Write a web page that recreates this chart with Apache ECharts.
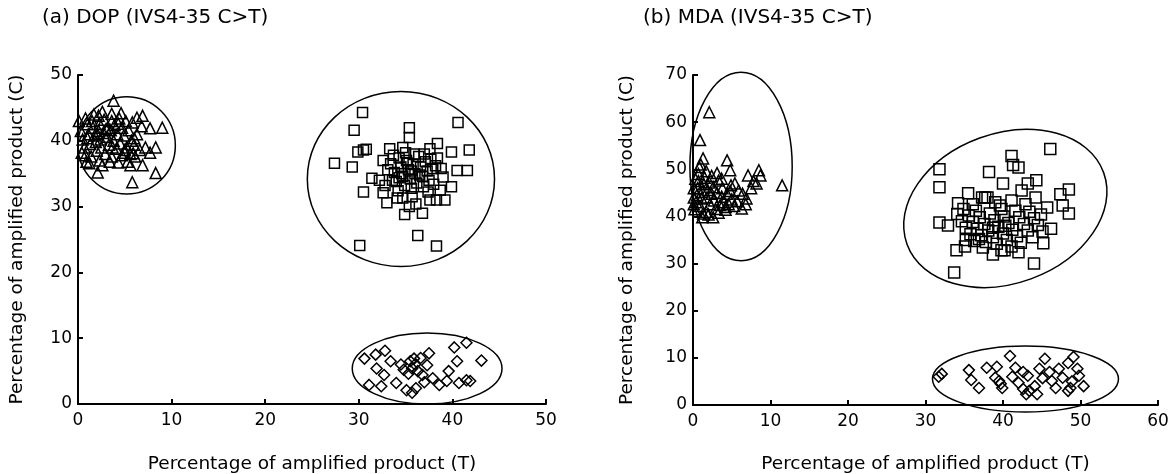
<!DOCTYPE html>
<html>
<head>
<meta charset="utf-8">
<script src="https://cdn.jsdelivr.net/npm/echarts@6/dist/echarts.min.js"></script>
<style>
  html, body { margin: 0; padding: 0; background: #fff; }
  #main { width: 1171px; height: 474px; }
</style>
</head>
<body>
<div id="main"></div>
<script>
// ---- data ----
var titles = ['(a) DOP (IVS4-35 C>T)', '(b) MDA (IVS4-35 C>T)'];
var xName = 'Percentage of amplified product (T)';
var yName = 'Percentage of amplified product (C)';
var xMaxA = 50, yMaxA = 50;   // panel (a) axis ranges
var xMaxB = 60, yMaxB = 70;   // panel (b) axis ranges

// panel (a) DOP: [T, C]
var triA = [
  [3.8,46.1],[9.0,42.0],[7.7,41.9],[8.3,39.0],[7.2,39.0],[8.3,35.1],[5.8,33.7],[2.1,35.2],
  [6.9,36.3],[5.6,36.3],[6.3,43.5],[6.9,43.8],[3.6,44.1],[2.2,43.8],[0.8,43.4],[0.8,37.8],
  [1.2,36.6],[2.6,36.3],[4.3,36.7],[5.0,38.2],[5.9,38.1],[7.7,38.2],
  [0.3,41.5],[0.5,40.2],[0.7,39.0],[1.0,42.5],[1.1,41.0],[1.3,39.5],[1.5,43.0],[1.6,42.0],
  [1.8,40.8],[1.9,39.8],[2.0,38.5],[2.2,41.5],[2.3,42.6],[2.4,40.2],[2.5,39.0],[2.7,41.2],
  [2.8,43.2],[2.9,38.0],[3.1,40.6],[3.2,42.0],[3.3,39.4],[3.5,41.6],[3.6,37.6],[3.6,43.0],
  [3.8,40.0],[3.9,42.4],[4.1,38.8],[4.2,41.0],[4.4,43.4],[4.5,39.6],[4.7,42.0],[4.7,37.8],
  [4.9,40.8],[5.1,43.0],[5.2,39.0],[5.4,41.6],[5.6,38.0],[5.8,42.8],[6.0,40.4],[6.1,37.6],
  [6.3,41.0],[6.6,38.6],[6.8,42.2],[0.1,43.0],[0.4,38.2],[0.9,36.8],[1.4,37.6],[1.7,44.0],
  [2.3,37.0],[2.6,44.4],[3.4,36.8],[4.6,44.2],[5.3,36.8],[6.0,39.4],[1.0,40.4],[2.1,41.0],
  [3.0,41.8],[3.7,39.0],[4.3,42.6],[5.0,38.6],[5.7,40.0]
];
var sqA = [
  [30.4,44.3],[29.5,41.6],[35.4,42.0],[35.4,40.5],[40.6,42.8],[41.8,38.6],[27.4,36.6],[29.3,36.0],
  [29.9,38.3],[30.5,38.6],[30.8,38.7],[30.5,32.2],[31.4,34.3],[36.3,25.6],[30.1,24.1],[38.3,24.0],
  [33.3,38.8],[34.7,39.0],[37.6,38.8],[38.4,39.6],[39.9,38.3],[40.5,35.5],[41.6,35.5],[39.9,33.0],
  [37.6,31.0],[38.3,31.0],[39.2,31.0],[34.9,28.8],[36.8,29.0],[33.0,30.6],[34.1,31.3],[34.7,31.3],
  [32.6,32.1],[32.2,34.0],[32.6,37.0],[35.7,31.5],[38.7,32.5],[39.0,34.5],
  [33.4,36.5],[33.8,35.2],[34.0,33.8],[34.3,37.4],[34.5,36.0],[34.7,34.6],[34.9,33.2],[35.1,37.0],
  [35.3,35.6],[35.5,34.2],[35.6,32.8],[35.8,36.4],[36.0,35.0],[36.2,33.6],[36.4,37.6],[36.6,36.0],
  [36.8,34.6],[36.9,33.0],[37.1,36.8],[37.3,35.4],[37.5,34.0],[37.7,37.2],[37.9,35.8],[38.0,33.4],
  [38.2,36.2],[33.6,34.0],[34.2,32.4],[35.0,38.2],[35.9,38.0],[37.0,38.0],[33.1,35.6],[34.6,35.0],
  [35.6,35.4],[36.5,34.8],[35.2,36.6],[34.3,34.4],[37.4,32.2],[33.7,37.8],[38.4,37.4],[38.8,35.8],
  [32.8,33.2],[36.1,30.4],[35.4,30.0]
];
var diaA = [
  [30.6,6.9],[31.8,7.5],[32.8,8.1],[31.9,5.4],[32.7,4.4],[31.1,2.9],[32.4,2.7],[33.4,6.5],
  [34.0,3.2],[34.5,6.0],[35.1,2.1],[35.7,1.7],[36.1,2.4],[35.5,6.5],[35.7,5.4],[35.9,6.9],
  [36.3,5.0],[36.8,4.4],[37.3,5.9],[37.5,7.7],[37.9,3.9],[38.6,2.9],[39.4,3.5],[39.6,5.0],
  [40.2,8.6],[40.5,6.5],[40.7,3.2],[41.5,9.3],[41.9,3.5],[43.1,6.6],[41.5,3.6],[36.0,6.0],
  [35.3,4.6],[36.6,7.0],[34.8,5.2],[37.0,3.3]
];
// ellipses: [centre T, centre C, radius T, radius C, tilt deg]
var ringsA = [
  [5.2, 39.3, 5.2, 7.4, 0],
  [34.5, 34.2, 10.0, 13.3, 0],
  [37.3, 5.4, 8.0, 5.4, 0]
];

// panel (b) MDA: [T, C]
var triB = [
  [2.1,62.1],[0.9,56.2],[1.3,52.3],[4.4,51.9],[4.8,49.8],[11.5,46.6],[8.5,49.8],[8.7,48.7],
  [7.1,48.7],[6.9,43.8],[6.3,41.7],[5.4,47.0],[2.6,39.8],[1.2,39.8],
  [7.8,47.5],[8.2,47.0],[7.5,46.0],[5.9,45.5],[6.4,44.8],[5.7,43.2],[5.3,42.2],[6.8,42.6],
  [0.2,41.5],[0.4,43.0],[0.5,44.5],[0.6,46.0],[0.7,47.5],[0.7,49.0],[0.8,50.5],[0.9,42.2],
  [1.1,43.8],[1.2,45.2],[1.4,46.8],[1.5,48.2],[1.7,41.0],[1.8,44.0],[1.9,45.6],[2.1,47.2],
  [2.2,42.6],[2.4,44.8],[2.6,46.2],[2.7,43.4],[2.9,41.6],[3.1,45.0],[3.3,47.6],[3.5,42.4],
  [3.7,44.2],[3.8,46.0],[4.0,43.0],[4.2,41.4],[4.4,44.8],[4.6,42.6],[4.8,45.4],[5.0,43.6],
  [0.3,48.0],[1.0,51.0],[1.7,49.6],[2.4,48.6],[3.1,49.2],[3.7,48.0],[0.1,44.0],[1.3,40.6],
  [2.0,40.4],[3.3,40.8],[4.2,42.0],[4.9,46.6],[0.1,46.0],[0.1,42.6]
];
var sqB = [
  [46.1,54.3],[41.1,52.8],[41.3,50.9],[42.0,50.4],[38.2,49.4],[40.0,47.0],[31.8,50.0],[31.8,46.2],
  [44.3,47.7],[43.2,47.0],[48.5,45.7],[47.4,44.7],[48.5,40.6],[47.7,42.3],[31.8,38.7],[32.9,38.1],
  [34.0,32.8],[33.7,28.1],[35.1,33.6],[38.7,31.9],[40.2,32.8],[44.0,30.0],[45.2,34.3],[46.2,37.4],
  [35.5,44.9],[37.3,44.0],[37.7,44.0],[38.0,44.0],[34.2,42.8],[39.6,42.3],[42.4,45.5],[44.2,44.0],
  [45.7,41.9],
  [34.1,40.5],[34.7,39.0],[35.2,37.6],[35.8,36.2],[36.3,34.8],[34.9,41.6],[35.6,40.2],[36.1,38.8],
  [36.7,37.4],[37.2,36.0],[37.8,34.6],[36.5,41.2],[37.0,39.8],[37.6,38.4],[38.1,37.0],[38.7,35.6],
  [39.2,34.2],[38.3,40.6],[38.9,39.2],[39.4,37.8],[40.0,36.4],[40.5,35.0],[41.1,33.6],[40.1,40.0],
  [40.7,38.6],[41.2,37.2],[41.8,35.8],[42.3,34.4],[41.6,41.2],[42.1,39.8],[42.7,38.4],[43.2,37.0],
  [43.8,35.6],[43.4,41.0],[44.0,39.6],[44.5,38.2],[45.1,36.8],[39.8,41.6],[39.0,43.0],[41.1,43.4],
  [36.1,42.6],[35.2,35.0],[37.4,33.4],[39.8,32.8],[42.0,32.4],[40.3,38.0],[38.7,37.6],[36.9,35.2],
  [42.9,42.6],[44.9,40.4]
];
var diaB = [
  [32.1,6.6],[31.7,6.0],[35.6,7.4],[35.9,5.3],[36.9,3.6],[37.9,7.9],[39.2,8.1],[39.0,5.8],
  [39.5,5.1],[39.7,4.5],[39.9,3.6],[40.9,10.4],[41.6,7.9],[42.6,7.0],[42.0,4.7],[42.6,3.4],
  [43.0,2.3],[43.4,3.0],[44.1,4.0],[44.7,7.7],[45.4,9.8],[44.4,2.3],[46.3,5.1],[46.8,3.6],
  [47.2,7.7],[47.7,5.8],[48.4,8.9],[48.7,3.6],[48.4,3.0],[49.1,10.2],[49.6,7.7],[49.8,6.2],
  [50.4,4.0],[45.1,5.7],[43.2,6.2],[41.2,6.0],[48.9,5.0],[46.0,7.0]
];
var ringsB = [
  [6.2, 50.6, 6.6, 20, 0],
  [40.3, 41.7, 13.5, 15.9, 20],
  [42.9, 5.5, 12.0, 7.0, 0]
];

var FONT = 'DejaVu Sans';

function makeX(idx, max, gap) {
  return {
    type: 'value', gridIndex: idx, min: 0, max: max, interval: 10,
    name: xName, nameLocation: 'middle', nameGap: gap,
    nameTextStyle: { color: '#000', fontSize: 18.5, fontFamily: FONT },
    axisLine: { show: true, onZero: false, lineStyle: { color: '#000', width: 2 } },
    axisTick: { show: true, inside: true, length: 5, lineStyle: { color: '#000', width: 2 } },
    axisLabel: { color: '#000', fontSize: 17, fontFamily: FONT, margin: 8 },
    splitLine: { show: false }
  };
}
function makeY(idx, max, gap) {
  return {
    type: 'value', gridIndex: idx, min: 0, max: max, interval: 10,
    name: yName, nameLocation: 'middle', nameGap: gap,
    nameTextStyle: { color: '#000', fontSize: 18.5, fontFamily: FONT },
    axisLine: { show: true, onZero: false, lineStyle: { color: '#000', width: 2 } },
    axisTick: { show: true, inside: true, length: 5, lineStyle: { color: '#000', width: 2 } },
    axisLabel: { color: '#000', fontSize: 17, fontFamily: FONT, margin: 6 },
    splitLine: { show: false }
  };
}
function pts(idx, data, symbol, size) {
  return {
    type: 'scatter', xAxisIndex: idx, yAxisIndex: idx, data: data,
    symbol: symbol, symbolSize: size, silent: true,
    itemStyle: { color: 'rgba(0,0,0,0)', borderColor: '#000', borderWidth: 1.5, opacity: 1 }
  };
}
function rings(idx, data) {
  return {
    type: 'custom', xAxisIndex: idx, yAxisIndex: idx, data: data, silent: true, clip: false,
    encode: { x: 0, y: 1 },
    renderItem: function (params, api) {
      var c = api.coord([api.value(0), api.value(1)]);
      var s = api.size([api.value(2), api.value(3)]);
      return {
        type: 'ellipse', x: c[0], y: c[1],
        rotation: api.value(4) * Math.PI / 180,
        shape: { cx: 0, cy: 0, rx: s[0], ry: s[1] },
        style: { fill: 'none', stroke: '#000', lineWidth: 1.5 }
      };
    }
  };
}

var chart = echarts.init(document.getElementById('main'));
chart.setOption({
  backgroundColor: '#fff',
  animation: false,
  title: [
    { text: titles[0], left: 42, top: 8, padding: 0,
      textStyle: { color: '#000', fontSize: 20, fontWeight: 'normal', fontFamily: FONT } },
    { text: titles[1], left: 643, top: 8, padding: 0,
      textStyle: { color: '#000', fontSize: 20, fontWeight: 'normal', fontFamily: FONT } }
  ],
  grid: [
    { left: 78, top: 75, width: 468, height: 329, outerBoundsMode: 'none' },
    { left: 693, top: 75, width: 465, height: 330, outerBoundsMode: 'none' }
  ],
  xAxis: [makeX(0, xMaxA, 51), makeX(1, xMaxB, 50)],
  yAxis: [makeY(0, yMaxA, 51), makeY(1, yMaxB, 56)],
  series: [
    rings(0, ringsA),
    pts(0, triA, 'triangle', 11),
    pts(0, sqA, 'rect', 10),
    pts(0, diaA, 'diamond', 11),
    rings(1, ringsB),
    pts(1, triB, 'triangle', 11),
    pts(1, sqB, 'rect', 11),
    pts(1, diaB, 'diamond', 11)
  ]
});
</script>
</body>
</html>
